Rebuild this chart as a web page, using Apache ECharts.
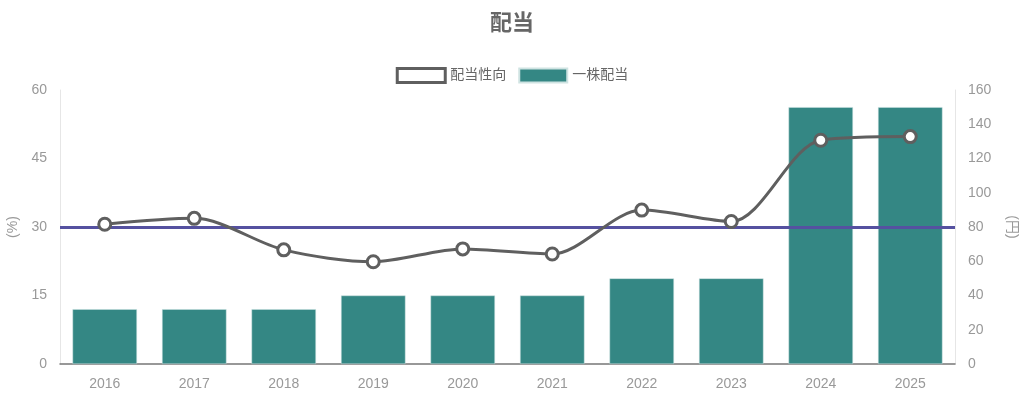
<!DOCTYPE html>
<html><head><meta charset="utf-8">
<script src="https://cdn.jsdelivr.net/npm/echarts@6/dist/echarts.min.js"></script>
<style>html,body{margin:0;padding:0;background:#fff}#c{width:1024px;height:399px}</style>
</head><body><div id="c"></div>
<script>
const categories = ['2016','2017','2018','2019','2020','2021','2022','2023','2024','2025'];
const payoutRatio = [30.6, 31.9, 25.0, 22.4, 25.2, 24.1, 33.7, 31.2, 49.0, 49.8];
const dividendPerShare = [32, 32, 32, 40, 40, 40, 50, 50, 150, 150];
const targetRatio = 30;
const leftTicks = [0, 60, 15];
const rightTicks = [0, 160, 20];

const chart = echarts.init(document.getElementById('c'));
const font = '"Liberation Sans", Arial, "Noto Sans CJK JP", sans-serif';
chart.setOption({
  animation: false,
  textStyle: { fontFamily: font },
  title: { text: '配当', left: 'center', top: 8, textStyle: { fontSize: 22, fontWeight: 'bold', color: '#666', fontFamily: font } },
  legend: {
    top: 62, left: 'center', itemWidth: 48, itemHeight: 14, itemGap: 12,
    textStyle: { color: '#666', fontSize: 14 },
    data: [
      { name: '配当性向', icon: 'rect', itemStyle: { color: '#fff', borderColor: '#5f5f5f', borderWidth: 3 } },
      { name: '一株配当', icon: 'rect' }
    ]
  },
  grid: { left: 60, right: 69, top: 90, bottom: 35, outerBoundsMode: 'none', containLabel: false },
  xAxis: {
    type: 'category', data: categories,
    axisLine: { lineStyle: { color: '#777', width: 1.5 } },
    axisTick: { show: false },
    axisLabel: { color: '#999', fontSize: 14, margin: 13 }
  },
  yAxis: [
    { type: 'value', min: leftTicks[0], max: leftTicks[1], interval: leftTicks[2],
      name: '(%)', nameLocation: 'middle', nameGap: 40, nameRotate: 90,
      nameTextStyle: { color: '#999', fontSize: 14 },
      axisLine: { show: true, lineStyle: { color: '#e6e6e6' } }, axisTick: { show: false },
      splitLine: { show: false }, axisLabel: { color: '#999', fontSize: 14, margin: 13 } },
    { type: 'value', min: rightTicks[0], max: rightTicks[1], interval: rightTicks[2],
      name: '(円)', nameLocation: 'middle', nameGap: 50, nameRotate: -90,
      nameTextStyle: { color: '#999', fontSize: 14 },
      axisLine: { show: true, lineStyle: { color: '#e6e6e6' } }, axisTick: { show: false },
      splitLine: { show: false }, axisLabel: { color: '#999', fontSize: 14, margin: 13 } }
  ],
  series: [
    { name: '配当性向', type: 'line', yAxisIndex: 0, data: payoutRatio, smooth: 0.3, z: 5,
      symbol: 'circle', symbolSize: 12,
      lineStyle: { color: '#5f5f5f', width: 3 },
      itemStyle: { color: '#fff', borderColor: '#5f5f5f', borderWidth: 3 },
      markLine: { silent: true, symbol: 'none', label: { show: false },
        lineStyle: { color: '#5551a0', width: 3, type: 'solid' },
        data: [{ yAxis: targetRatio }] } },
    { name: '一株配当', type: 'bar', yAxisIndex: 1, data: dividendPerShare, barCategoryGap: '28%', z: 2,
      itemStyle: { color: '#348784', borderColor: '#cfe3e2', borderWidth: 0.5 } }
  ]
});
</script></body></html>
